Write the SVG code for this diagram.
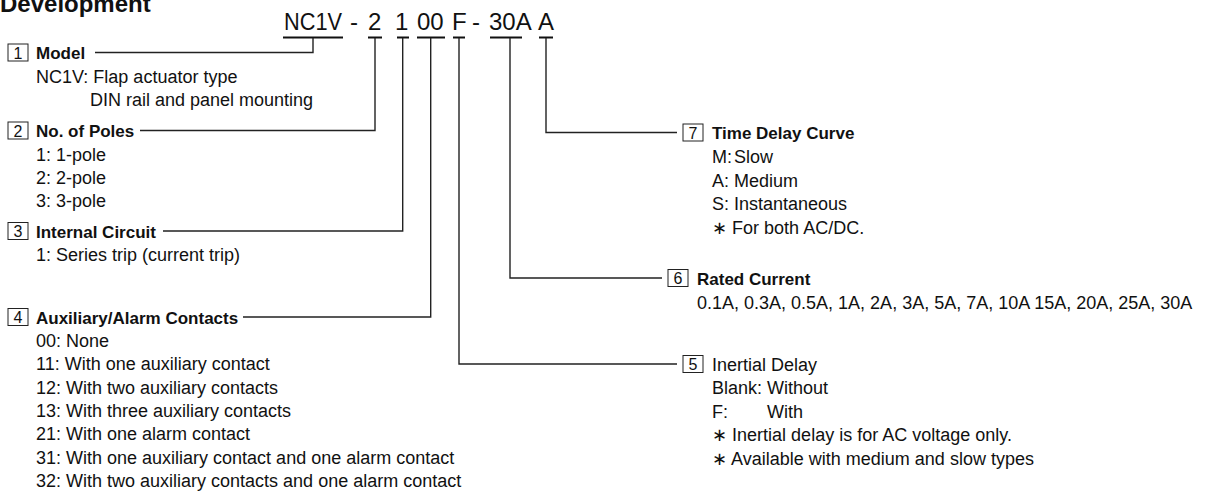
<svg xmlns="http://www.w3.org/2000/svg" width="1205" height="499" viewBox="0 0 1205 499">
<style>
text{font-family:"Liberation Sans",Arial,"DejaVu Sans",sans-serif;font-size:18px;fill:#111}
.h{font-weight:bold;font-size:17px}
.n{font-size:16px;text-anchor:middle}
.code{font-size:24px}
.title{font-weight:bold;font-size:24px}
.box{fill:#fff;stroke:#222;stroke-width:1}
.c{fill:none;stroke:#222;stroke-width:1.4}
.u{fill:#111}
</style>
<rect width="1205" height="499" fill="#fff"/>
<text class="title" x="0" y="12">Development</text>
<g id="code">
<text class="code" x="284" y="30" textLength="58" lengthAdjust="spacingAndGlyphs">NC1V</text>
<text class="code" x="350" y="30">-</text>
<text class="code" x="368" y="30">2</text>
<text class="code" x="395" y="30">1</text>
<text class="code" x="417" y="30">00</text>
<text class="code" x="452" y="30">F</text>
<text class="code" x="472" y="30">-</text>
<text class="code" x="489" y="30">30A</text>
<text class="code" x="538" y="30">A</text>
<rect class="u" x="283" y="36.5" width="60" height="2"/>
<rect class="u" x="368" y="36.5" width="14" height="2"/>
<rect class="u" x="397" y="36.5" width="12" height="2"/>
<rect class="u" x="417" y="36.5" width="28" height="2"/>
<rect class="u" x="453" y="36.5" width="12" height="2"/>
<rect class="u" x="490" y="36.5" width="32" height="2"/>
<rect class="u" x="539" y="36.5" width="14" height="2"/>
</g>
<g id="connectors">
<polyline class="c" points="313,38 313,52.5 95,52.5"/>
<polyline class="c" points="375,38 375,130.5 140,130.5"/>
<polyline class="c" points="402.7,38 402.7,231 163,231"/>
<polyline class="c" points="430.7,38 430.7,317 243,317"/>
<polyline class="c" points="459,38 459,364 677,364"/>
<polyline class="c" points="510,38 510,278 662,278"/>
<polyline class="c" points="546,38 546,132.5 677,132.5"/>
</g>
<g id="model">
<rect class="box" x="8" y="44" width="20" height="17"/>
<text class="n" x="18" y="58.5">1</text>
<text class="h" x="36" y="59">Model</text>
<text x="36" y="82.5">NC1V: Flap actuator type</text>
<text x="90" y="106">DIN rail and panel mounting</text>
</g>
<g id="poles">
<rect class="box" x="8" y="122" width="20" height="17"/>
<text class="n" x="18" y="136.5">2</text>
<text class="h" x="36" y="137">No. of Poles</text>
<text x="36" y="160.5">1: 1-pole</text>
<text x="36" y="184">2: 2-pole</text>
<text x="36" y="207.3">3: 3-pole</text>
</g>
<g id="circuit">
<rect class="box" x="8" y="222.5" width="20" height="17"/>
<text class="n" x="18" y="237">3</text>
<text class="h" x="36" y="237.5">Internal Circuit</text>
<text x="36" y="260.5">1: Series trip (current trip)</text>
</g>
<g id="contacts">
<rect class="box" x="8" y="308.5" width="20" height="17"/>
<text class="n" x="18" y="323">4</text>
<text class="h" x="36" y="323.5">Auxiliary/Alarm Contacts</text>
<text x="36" y="347">00: None</text>
<text x="36" y="370.3">11: With one auxiliary contact</text>
<text x="36" y="393.6">12: With two auxiliary contacts</text>
<text x="36" y="417">13: With three auxiliary contacts</text>
<text x="36" y="440.3">21: With one alarm contact</text>
<text x="36" y="463.6">31: With one auxiliary contact and one alarm contact</text>
<text x="36" y="487">32: With two auxiliary contacts and one alarm contact</text>
</g>
<g id="delay">
<rect class="box" x="683" y="355.5" width="20" height="17"/>
<text class="n" x="693" y="370">5</text>
<text x="712" y="370.5">Inertial Delay</text>
<text x="712" y="394">Blank: Without</text>
<text x="712" y="417.5">F:</text>
<text x="767" y="417.5">With</text>
<text x="712" y="441">∗ Inertial delay is for AC voltage only.</text>
<text x="712" y="464.5">∗ Available with medium and slow types</text>
</g>
<g id="current">
<rect class="box" x="668" y="269.5" width="20" height="17"/>
<text class="n" x="678" y="284">6</text>
<text class="h" x="697" y="284.5">Rated Current</text>
<text x="697" y="309">0.1A, 0.3A, 0.5A, 1A, 2A, 3A, 5A, 7A, 10A 15A, 20A, 25A, 30A</text>
</g>
<g id="curve">
<rect class="box" x="683" y="124" width="20" height="17"/>
<text class="n" x="693" y="138.5">7</text>
<text class="h" x="712" y="139">Time Delay Curve</text>
<text x="712" y="163">M:<tspan dx="2">Slow</tspan></text>
<text x="712" y="186.5">A: Medium</text>
<text x="712" y="210">S: Instantaneous</text>
<text x="712" y="233.5">∗ For both AC/DC.</text>
</g>
</svg>
